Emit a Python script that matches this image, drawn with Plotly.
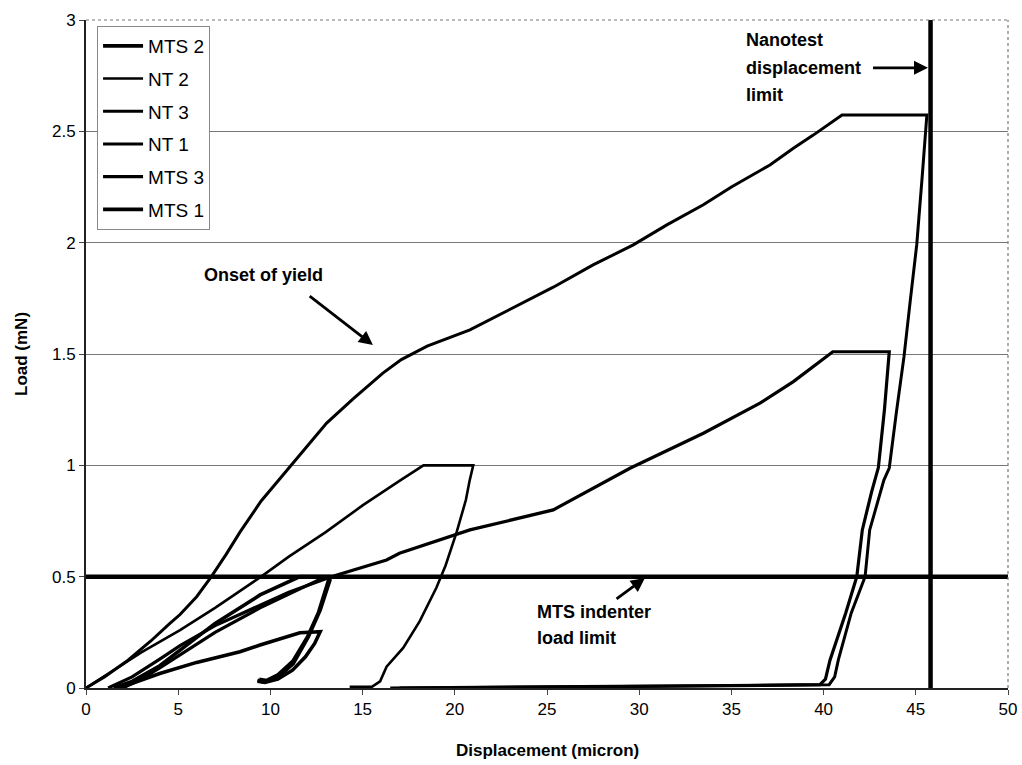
import plotly.graph_objects as go

# Load-displacement curves (displacement in micron, load in mN)
nt1_x = [0, 1.0, 2.2, 3.5, 4.55, 5.1, 6.0, 6.8, 7.6, 8.35, 9.5, 10.4, 10.9, 12.0, 13.05, 14.5, 16.1, 17.1,
         18.5, 20.82, 23.0, 25.34, 27.5, 29.68, 31.5, 33.48, 35.0, 37.09, 38.36, 39.44, 41.0, 45.6,
         45.35, 45.05, 44.7, 44.36, 43.95, 43.56, 43.27, 42.8, 42.5, 42.25, 41.5, 40.8, 40.6, 40.3,
         35.0, 30.0, 25.0, 20.0, 16.5]
nt1_y = [0, 0.05, 0.12, 0.21, 0.29, 0.33, 0.41, 0.5, 0.60, 0.70, 0.84, 0.93, 0.98, 1.09, 1.19, 1.30, 1.414, 1.475,
         1.535, 1.608, 1.70, 1.80, 1.90, 1.99, 2.08, 2.17, 2.25, 2.349, 2.424, 2.483, 2.573, 2.573,
         2.3, 1.99, 1.74, 1.488, 1.24, 0.988, 0.934, 0.80, 0.71, 0.5, 0.337, 0.126, 0.05, 0.015,
         0.012, 0.009, 0.006, 0.004, 0.0]

nt3_x = [1.2, 2.5, 4.0, 5.1, 7.0, 9.44, 11.0, 13.3, 16.3, 17.0, 20.82, 25.34, 29.5, 33.48, 36.55,
         38.36, 40.5, 43.56, 43.3, 42.97, 42.6, 42.1, 41.8, 41.2, 40.35, 40.1, 39.8,
         35.0, 30.0, 25.0, 20.0, 17.0]
nt3_y = [0, 0.05, 0.13, 0.19, 0.28, 0.37, 0.43, 0.5, 0.575, 0.605, 0.71, 0.80, 0.987, 1.144, 1.279,
         1.376, 1.51, 1.51, 1.25, 0.99, 0.88, 0.71, 0.5, 0.337, 0.126, 0.04, 0.015,
         0.01, 0.007, 0.005, 0.003, 0.0]

nt2_x = [0, 1.5, 3.0, 5.1, 7.0, 9.5, 11.0, 13.0, 15.0, 17.0, 18.3, 21.0, 20.8, 20.6, 20.1, 19.5,
         19.0, 18.1, 17.2, 16.3, 15.95, 15.5, 14.3]
nt2_y = [0, 0.08, 0.16, 0.26, 0.36, 0.5, 0.59, 0.70, 0.82, 0.93, 1.0, 1.0, 0.93, 0.844, 0.7, 0.55,
         0.45, 0.3, 0.18, 0.096, 0.03, 0.005, 0.005]

mts2_x = [1.5, 2.5, 4.0, 5.1, 7.0, 9.44, 11.6, 13.2, 13.23, 12.7, 12.06, 11.24, 10.34, 9.6, 9.3]
mts2_y = [0, 0.03, 0.10, 0.17, 0.29, 0.418, 0.5, 0.5, 0.485, 0.35, 0.23, 0.11, 0.043, 0.028, 0.035]

mts3_x = [2.0, 3.0, 4.0, 5.1, 7.0, 9.44, 11.0, 13.0, 13.2, 13.0, 12.6, 12.0, 11.2, 10.4, 9.8, 9.4]
mts3_y = [0, 0.04, 0.09, 0.15, 0.25, 0.36, 0.42, 0.5, 0.5, 0.45, 0.34, 0.23, 0.12, 0.06, 0.035, 0.04]

mts1_x = [1.8, 4.0, 6.0, 8.35, 9.44, 11.6, 12.7, 12.4, 11.9, 11.2, 10.4, 9.7, 9.3]
mts1_y = [0, 0.065, 0.115, 0.163, 0.193, 0.248, 0.253, 0.2, 0.14, 0.08, 0.04, 0.025, 0.03]

# Instrument limits
mts_load_limit = 0.5
nanotest_disp_limit = 45.8

x_ticks = [0, 5, 10, 15, 20, 25, 30, 35, 40, 45, 50]
y_ticks = [0, 0.5, 1, 1.5, 2, 2.5, 3]

FONT = "Arial, 'Liberation Sans', sans-serif"

series = [
    ("MTS 2", mts2_x, mts2_y, 3.6),
    ("NT 2", nt2_x, nt2_y, 2.6),
    ("NT 3", nt3_x, nt3_y, 3.2),
    ("NT 1", nt1_x, nt1_y, 3.0),
    ("MTS 3", mts3_x, mts3_y, 3.2),
    ("MTS 1", mts1_x, mts1_y, 3.6),
]

fig = go.Figure()

# limit lines drawn under the curves
fig.add_trace(go.Scatter(x=[0, 50], y=[mts_load_limit, mts_load_limit], mode="lines",
                         line=dict(color="black", width=4.5), showlegend=False, hoverinfo="skip"))
fig.add_trace(go.Scatter(x=[nanotest_disp_limit, nanotest_disp_limit], y=[0, 3], mode="lines",
                         line=dict(color="black", width=4.5), showlegend=False, hoverinfo="skip"))

for i, (name, xs, ys, w) in enumerate(series):
    fig.add_trace(go.Scatter(x=xs, y=ys, mode="lines", name=name, legendgroup=f"g{i}",
                             line=dict(color="black", width=w)))

bold = dict(family=FONT, size=18, color="black")

annotations = [
    # Onset of yield
    dict(x=15.56, y=1.54, ax=12.05, ay=1.765, xref="x", yref="y", axref="x", ayref="y",
         showarrow=True, arrowhead=2, arrowsize=1.0, arrowwidth=2.8, arrowcolor="black", text=""),
    dict(x=9.6, y=1.855, xref="x", yref="y", text="<b>Onset of yield</b>", showarrow=False,
         font=bold, xanchor="center", yanchor="middle"),
    # MTS indenter load limit
    dict(x=30.31, y=0.494, ax=28.69, ay=0.395, xref="x", yref="y", axref="x", ayref="y",
         showarrow=True, arrowhead=2, arrowsize=1.0, arrowwidth=2.8, arrowcolor="black", text=""),
    dict(x=24.35, y=0.341, xref="x", yref="y", text="<b>MTS indenter</b>", showarrow=False,
         font=bold, xanchor="left", yanchor="middle"),
    dict(x=24.35, y=0.224, xref="x", yref="y", text="<b>load limit</b>", showarrow=False,
         font=bold, xanchor="left", yanchor="middle"),
    # Nanotest displacement limit
    dict(x=45.66, y=2.785, ax=42.6, ay=2.785, xref="x", yref="y", axref="x", ayref="y",
         showarrow=True, arrowhead=2, arrowsize=1.0, arrowwidth=2.8, arrowcolor="black", text=""),
    dict(x=35.7, y=2.91, xref="x", yref="y", text="<b>Nanotest</b>", showarrow=False,
         font=bold, xanchor="left", yanchor="middle"),
    dict(x=35.7, y=2.785, xref="x", yref="y", text="<b>displacement</b>", showarrow=False,
         font=bold, xanchor="left", yanchor="middle"),
    dict(x=35.7, y=2.663, xref="x", yref="y", text="<b>limit</b>", showarrow=False,
         font=bold, xanchor="left", yanchor="middle"),
    # x-axis title
    dict(x=0.5, y=-0.093, xref="paper", yref="paper", text="<b>Displacement (micron)</b>",
         showarrow=False, font=dict(family=FONT, size=17, color="black"),
         xanchor="center", yanchor="middle"),
]

shapes = [
    # dotted frame on top and right of the plot area
    dict(type="line", xref="paper", yref="paper", x0=0, x1=1, y0=1, y1=1,
         line=dict(color="#777", width=1.2, dash="dot")),
    dict(type="line", xref="paper", yref="paper", x0=1, x1=1, y0=0, y1=1,
         line=dict(color="#777", width=1.2, dash="dot")),
]

fig.update_layout(
    width=1022, height=765,
    margin=dict(l=86, r=14, t=20, b=77),
    paper_bgcolor="white", plot_bgcolor="white",
    font=dict(family=FONT, size=16, color="black"),
    showlegend=True,
    legend=dict(x=0.012, y=0.991, xanchor="left", yanchor="top",
                bgcolor="white", bordercolor="#888", borderwidth=1,
                font=dict(family=FONT, size=19, color="black"),
                tracegroupgap=5, itemwidth=40),
    annotations=annotations,
    shapes=shapes,
)

fig.update_xaxes(range=[0, 50], tickvals=x_ticks, ticktext=[str(v) for v in x_ticks],
                 showgrid=False, zeroline=False, showline=True, linecolor="#222", linewidth=1.5,
                 ticks="outside", ticklen=5, tickcolor="#444", tickfont=dict(size=17),
                 automargin=False)
fig.update_yaxes(range=[0, 3], tickvals=y_ticks, ticktext=[str(v) for v in y_ticks],
                 showgrid=True, gridcolor="#777", gridwidth=1, zeroline=False,
                 showline=True, linecolor="#222", linewidth=2,
                 ticks="outside", ticklen=5, tickcolor="#444", tickfont=dict(size=17),
                 automargin=False,
                 title=dict(text="<b>Load (mN)</b>", font=dict(size=17), standoff=20))

fig.write_html("out.html")
